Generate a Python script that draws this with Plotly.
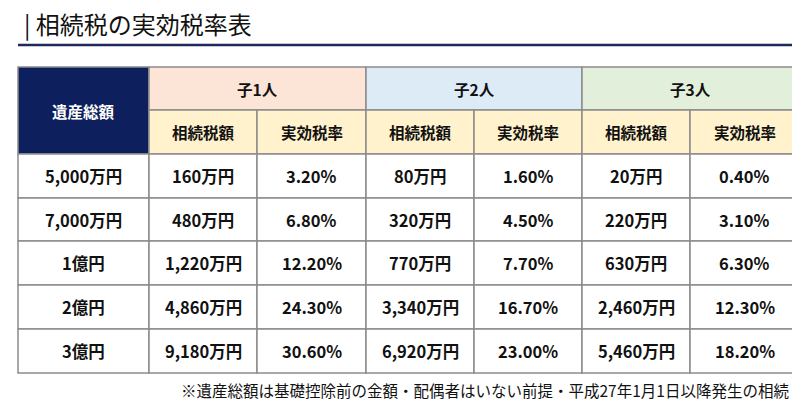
import plotly.graph_objects as go

# data
estates = ["5,000万円", "7,000万円", "1億円", "2億円", "3億円"]
groups = ["子1人", "子2人", "子3人"]
sub_labels = ["相続税額", "実効税率"]
tax_1 = ["160万円", "480万円", "1,220万円", "4,860万円", "9,180万円"]
rate_1 = ["3.20%", "6.80%", "12.20%", "24.30%", "30.60%"]
tax_2 = ["80万円", "320万円", "770万円", "3,340万円", "6,920万円"]
rate_2 = ["1.60%", "4.50%", "7.70%", "16.70%", "23.00%"]
tax_3 = ["20万円", "220万円", "630万円", "2,460万円", "5,460万円"]
rate_3 = ["0.40%", "3.10%", "6.30%", "12.30%", "18.20%"]

title = "| 相続税の実効税率表"
note = "※遺産総額は基礎控除前の金額・配偶者はいない前提・平成27年1月1日以降発生の相続"

columns = [tax_1, rate_1, tax_2, rate_2, tax_3, rate_3]
group_colors = ["#fce4d6", "#ddebf7", "#e2efda"]
sub_color = "#fff2cc"
navy = "#0d1f5c"
border = "#8c8c8c"
font = "Noto Sans CJK JP"

# grid geometry (window pixel space; page has an 8px body margin)
col_x = [18, 149, 257, 366, 474, 582, 690, 799]
row_y = [67, 110, 154, 198, 241, 285, 329, 373]

fig = go.Figure()
shapes, annos = [], []

def cell(x0, x1, y0, y1, fill, text, color="#111", size=15.5):
    shapes.append(dict(type="rect", x0=x0, x1=x1, y0=y0, y1=y1, fillcolor=fill,
                       line=dict(color=border, width=1.5), layer="below"))
    annos.append(dict(x=(x0 + x1) / 2, y=(y0 + y1) / 2, text="<b>%s</b>" % text,
                      showarrow=False, font=dict(family=font, size=size, color=color)))

cell(col_x[0], col_x[1], row_y[0], row_y[2], navy, "遺産総額", "white", 15.5)
for g, name in enumerate(groups):
    cell(col_x[1 + 2 * g], col_x[3 + 2 * g], row_y[0], row_y[1], group_colors[g], name)
    for s in range(2):
        cell(col_x[1 + 2 * g + s], col_x[2 + 2 * g + s], row_y[1], row_y[2], sub_color, sub_labels[s])
for r, est in enumerate(estates):
    cell(col_x[0], col_x[1], row_y[2 + r], row_y[3 + r], "white", est, size=16.5)
    for c, vals in enumerate(columns):
        cell(col_x[1 + c], col_x[2 + c], row_y[2 + r], row_y[3 + r], "white", vals[r], size=16.5)

shapes.append(dict(type="line", x0=18, x1=800, y0=45, y1=45, line=dict(color="#1f2a5a", width=2.5)))
annos.append(dict(x=22, y=23, text=title, showarrow=False, xanchor="left",
                  font=dict(family=font, size=24, color="#111")))
annos.append(dict(x=791, y=390, text=note, showarrow=False, xanchor="right",
                  font=dict(family=font, size=15.5, color="#111")))

fig.update_layout(
    width=784, height=393, margin=dict(l=0, r=0, t=0, b=0),
    plot_bgcolor="white", paper_bgcolor="white",
    xaxis=dict(range=[8, 792], visible=False, fixedrange=True),
    yaxis=dict(range=[401, 8], visible=False, fixedrange=True),
    shapes=shapes, annotations=annos, showlegend=False,
)
fig.write_html("out.html")
